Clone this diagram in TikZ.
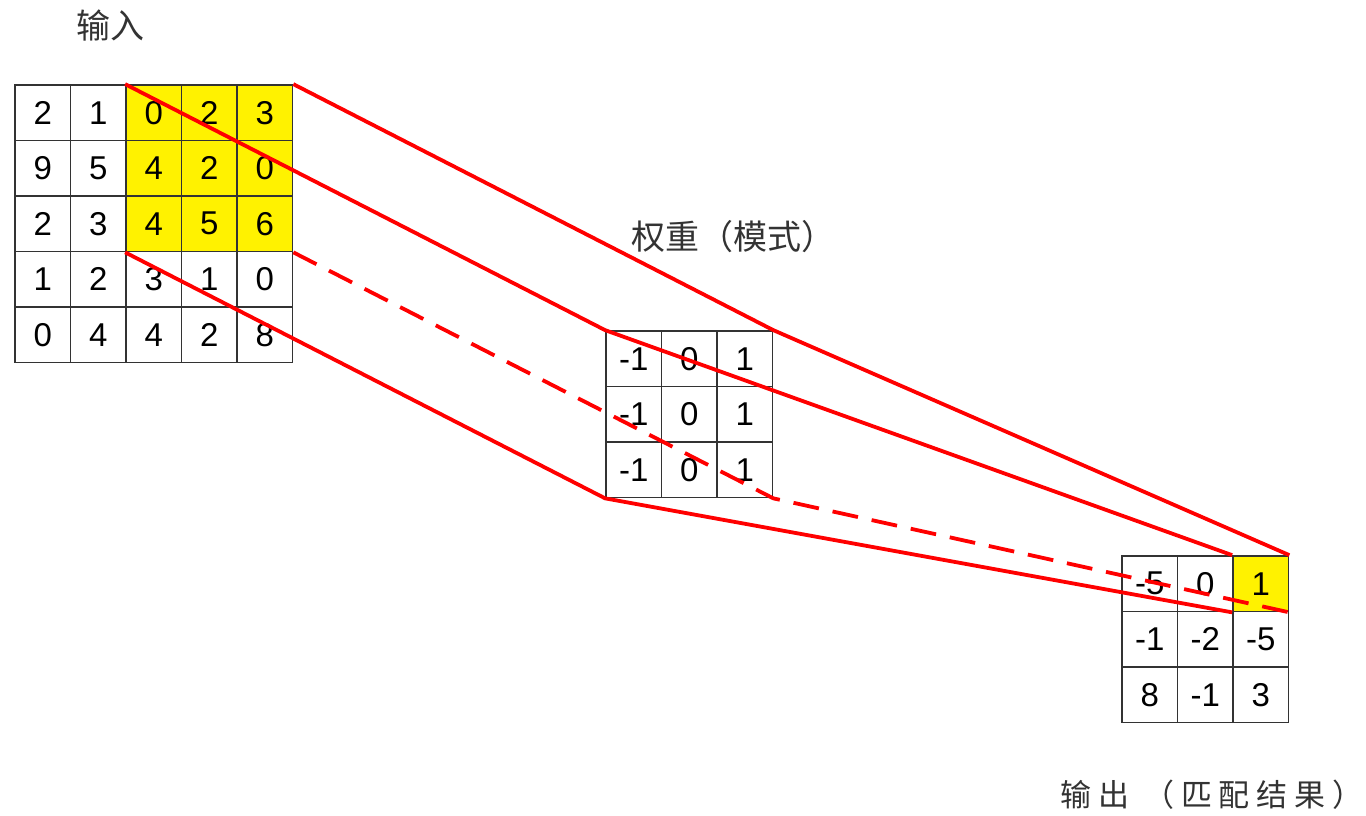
\documentclass[tikz,border=0pt]{standalone}
\usepackage{fontspec}
\setmainfont{Liberation Sans}
\newfontfamily\cjkfont{Noto Sans CJK SC}
\usetikzlibrary{positioning}

\begin{document}
\begin{tikzpicture}[x=0.5pt, y=-0.5pt,
    cell/.style={draw=black!80, line width=0.9pt, minimum size=27.7pt, inner sep=0pt, font=\fontsize{16.5}{17}\selectfont},
    link/.style={red, line width=1.9pt, line join=round},
    title/.style={text=black!80, inner sep=0pt, font=\cjkfont\fontsize{17}{18}\selectfont}]
    \useasboundingbox (0,0) rectangle (1366,815);
    \def\cs{55.5}

    % Input
    \foreach \row [count=\ri from 0] in {{2,1,0,2,3},{9,5,4,2,0},{2,3,4,5,6},{1,2,3,1,0},{0,4,4,2,8}}
        \foreach \v [count=\ci from 0] in \row {
            \def\fc{white}
            \ifnum\ri<3 \ifnum\ci>1 \def\fc{yellow}\fi\fi
            \node[cell, fill=\fc] (in-\ri-\ci) at ({15+\cs*(\ci+0.5)}, {85+\cs*(\ri+0.5)}) {\v};
        }

    % Weights
    \foreach \row [count=\ri from 0] in {{-1,0,1},{-1,0,1},{-1,0,1}}
        \foreach \v [count=\ci from 0] in \row
            \node[cell] (wt-\ri-\ci) at ({606+\cs*(\ci+0.5)}, {331+\cs*(\ri+0.5)}) {\v};

    % Output
    \foreach \row [count=\ri from 0] in {{-5,0,1},{-1,-2,-5},{8,-1,3}}
        \foreach \v [count=\ci from 0] in \row {
            \def\fc{white}
            \ifnum\ri=0 \ifnum\ci=2 \def\fc{yellow}\fi\fi
            \node[cell, fill=\fc] (out-\ri-\ci) at ({1122+\cs*(\ci+0.5)}, {556+\cs*(\ri+0.5)}) {\v};
        }

    % Projection lines
    \draw[link] (in-0-4.north east) -- (wt-0-2.north east) -- (out-0-2.north east);
    \draw[link] (in-0-2.north west) -- (wt-0-0.north west) -- (out-0-2.north west);
    \draw[link, dash pattern=on 13pt off 7pt] (in-2-4.south east) -- (wt-2-2.south east) -- (out-0-2.south east);
    \draw[link] (in-2-2.south west) -- (wt-2-0.south west) -- (out-0-2.south west);

    % Titles
    \node[title] (t-in) at (110,26) {输入};
    \node[title] (t-wt) at (733,237) {权重（模式）};
    \node[title, font=\cjkfont\fontsize{15.5}{16}\selectfont\addfontfeature{LetterSpace=22}] (t-out) at (1212,795) {输出 （匹配结果）};
\end{tikzpicture}
\end{document}
